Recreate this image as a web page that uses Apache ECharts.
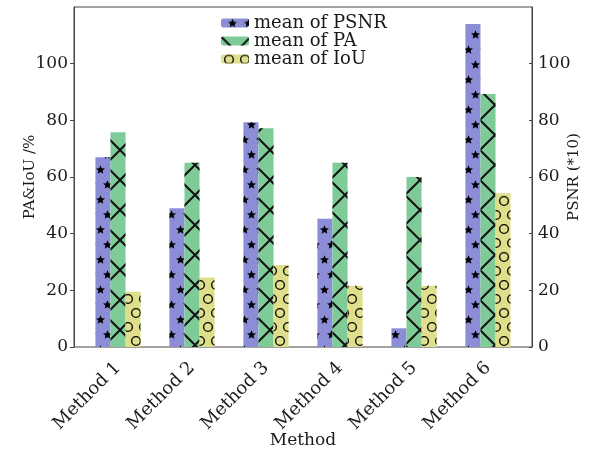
<!DOCTYPE html>
<html>
<head>
<meta charset="utf-8">
<script src="https://cdn.jsdelivr.net/npm/echarts@6/dist/echarts.min.js"></script>
<style>
  html, body { margin: 0; padding: 0; background: #fff; }
  #chart { width: 601px; height: 456px; }
</style>
</head>
<body>
<div id="chart"></div>
<script>
// data
var methods = ['Method 1', 'Method 2', 'Method 3', 'Method 4', 'Method 5', 'Method 6'];
var psnr = [67, 49, 79.3, 45.3, 6.6, 114];   // right axis, PSNR (*10)
var pa = [75.8, 65, 77.2, 65, 60, 89.3];
var iou = [19.5, 24.5, 28.9, 21.6, 21.6, 54.3];

var font = 'DejaVu Serif';
var ink = '#1a1a1a';

// hatch symbols (decal tiles)
var starPath = 'path://M50,0L63.5,31.4L97.6,34.5L71.9,57.1L79.4,90.5L50,73L20.6,90.5L28.1,57.1L2.4,34.5L36.5,31.4Z';
// one full ring plus two half rings at the tile edges, so rings stagger across the tile border
var ringPath = 'path://M8,0A5,5,0,1,1,8,10A5,5,0,1,1,8,0ZM8,1.3A3.7,3.7,0,1,0,8,8.7A3.7,3.7,0,1,0,8,1.3Z'
    + 'M0,14A5,5,0,0,1,0,24L0,22.7A3.7,3.7,0,0,0,0,15.3Z'
    + 'M16,14A5,5,0,0,0,16,24L16,22.7A3.7,3.7,0,0,1,16,15.3Z';
var crossPath = 'path://M0,0L1.4,0L30,28.6L30,30L28.6,30L0,1.4ZM28.6,0L30,0L30,1.4L1.4,30L0,30L0,28.6Z';

var myChart = echarts.init(document.getElementById('chart'));
var option = {
    backgroundColor: '#fff',
    textStyle: { fontFamily: font, color: ink },
    legend: {
        orient: 'vertical',
        left: 216,
        top: 9,
        itemWidth: 28,
        itemHeight: 9,
        itemGap: 0,
        textStyle: { fontFamily: font, fontSize: 18, color: ink },
        data: ['mean of PSNR', 'mean of PA', 'mean of IoU']
    },
    grid: [
        { left: 81, right: 76, top: 7, bottom: 109, outerBoundsMode: 'none' },
        { left: 74, right: 69, top: 7, bottom: 109, outerBoundsMode: 'none', show: true, borderColor: '#444', borderWidth: 1, backgroundColor: 'transparent' }
    ],
    xAxis: [
        {
            type: 'category',
            gridIndex: 0,
            data: methods,
            name: 'Method',
            nameLocation: 'middle',
            nameGap: 85,
            nameMoveOverlap: false,
            nameTextStyle: { fontFamily: font, fontSize: 17, color: ink },
            axisLine: { show: false },
            axisTick: { show: false },
            axisLabel: { rotate: 45, interval: 0, margin: 18, fontFamily: font, fontSize: 18, color: ink }
        },
        { type: 'value', gridIndex: 1, show: false }
    ],
    yAxis: [
        {
            type: 'value',
            gridIndex: 0,
            position: 'left',
            offset: 7,
            min: 0, max: 120, interval: 20,
            name: 'PA&IoU /%',
            nameLocation: 'middle',
            nameGap: 36,
            nameMoveOverlap: false,
            nameTextStyle: { fontFamily: font, fontSize: 15, color: ink },
            axisLine: { show: true, lineStyle: { color: '#444' } },
            axisTick: { show: true, length: 4, lineStyle: { color: '#444' } },
            splitLine: { show: false },
            axisLabel: { showMaxLabel: false, margin: 6, fontFamily: font, fontSize: 17, color: ink }
        },
        {
            type: 'value',
            gridIndex: 0,
            position: 'right',
            offset: 7,
            min: 0, max: 120, interval: 20,
            name: 'PSNR (*10)',
            nameLocation: 'middle',
            nameGap: 35,
            nameRotate: 90,
            nameMoveOverlap: false,
            nameTextStyle: { fontFamily: font, fontSize: 15, color: ink },
            axisLine: { show: true, lineStyle: { color: '#444' } },
            axisTick: { show: true, inside: true, length: 3, lineStyle: { color: '#444' } },
            splitLine: { show: false },
            axisLabel: { showMaxLabel: false, margin: 6, fontFamily: font, fontSize: 17, color: ink }
        },
        { type: 'value', gridIndex: 1, show: false }
    ],
    series: [
        {
            name: 'mean of PSNR',
            type: 'bar',
            yAxisIndex: 1,
            barGap: '0%',
            barCategoryGap: '39%',
            itemStyle: {
                color: '#8b8dd6',
                decal: { symbol: starPath, symbolSize: 1, color: '#000', dashArrayX: [[9, 7], [0, 7, 9, 0]], dashArrayY: [9, 6] }
            },
            data: psnr
        },
        {
            name: 'mean of PA',
            type: 'bar',
            barGap: '0%',
            barCategoryGap: '39%',
            itemStyle: {
                color: '#7ecb98',
                decal: { symbol: crossPath, symbolSize: 1, color: '#111', dashArrayX: [[30, 0]], dashArrayY: [30, 0] }
            },
            data: pa
        },
        {
            name: 'mean of IoU',
            type: 'bar',
            barGap: '0%',
            barCategoryGap: '39%',
            itemStyle: {
                color: '#dfde8c',
                decal: { symbol: ringPath, symbolSize: 1, color: '#000', dashArrayX: [[16, 0]], dashArrayY: [24, 4] }
            },
            data: iou
        }
    ]
};
myChart.setOption(option);
</script>
</body>
</html>
